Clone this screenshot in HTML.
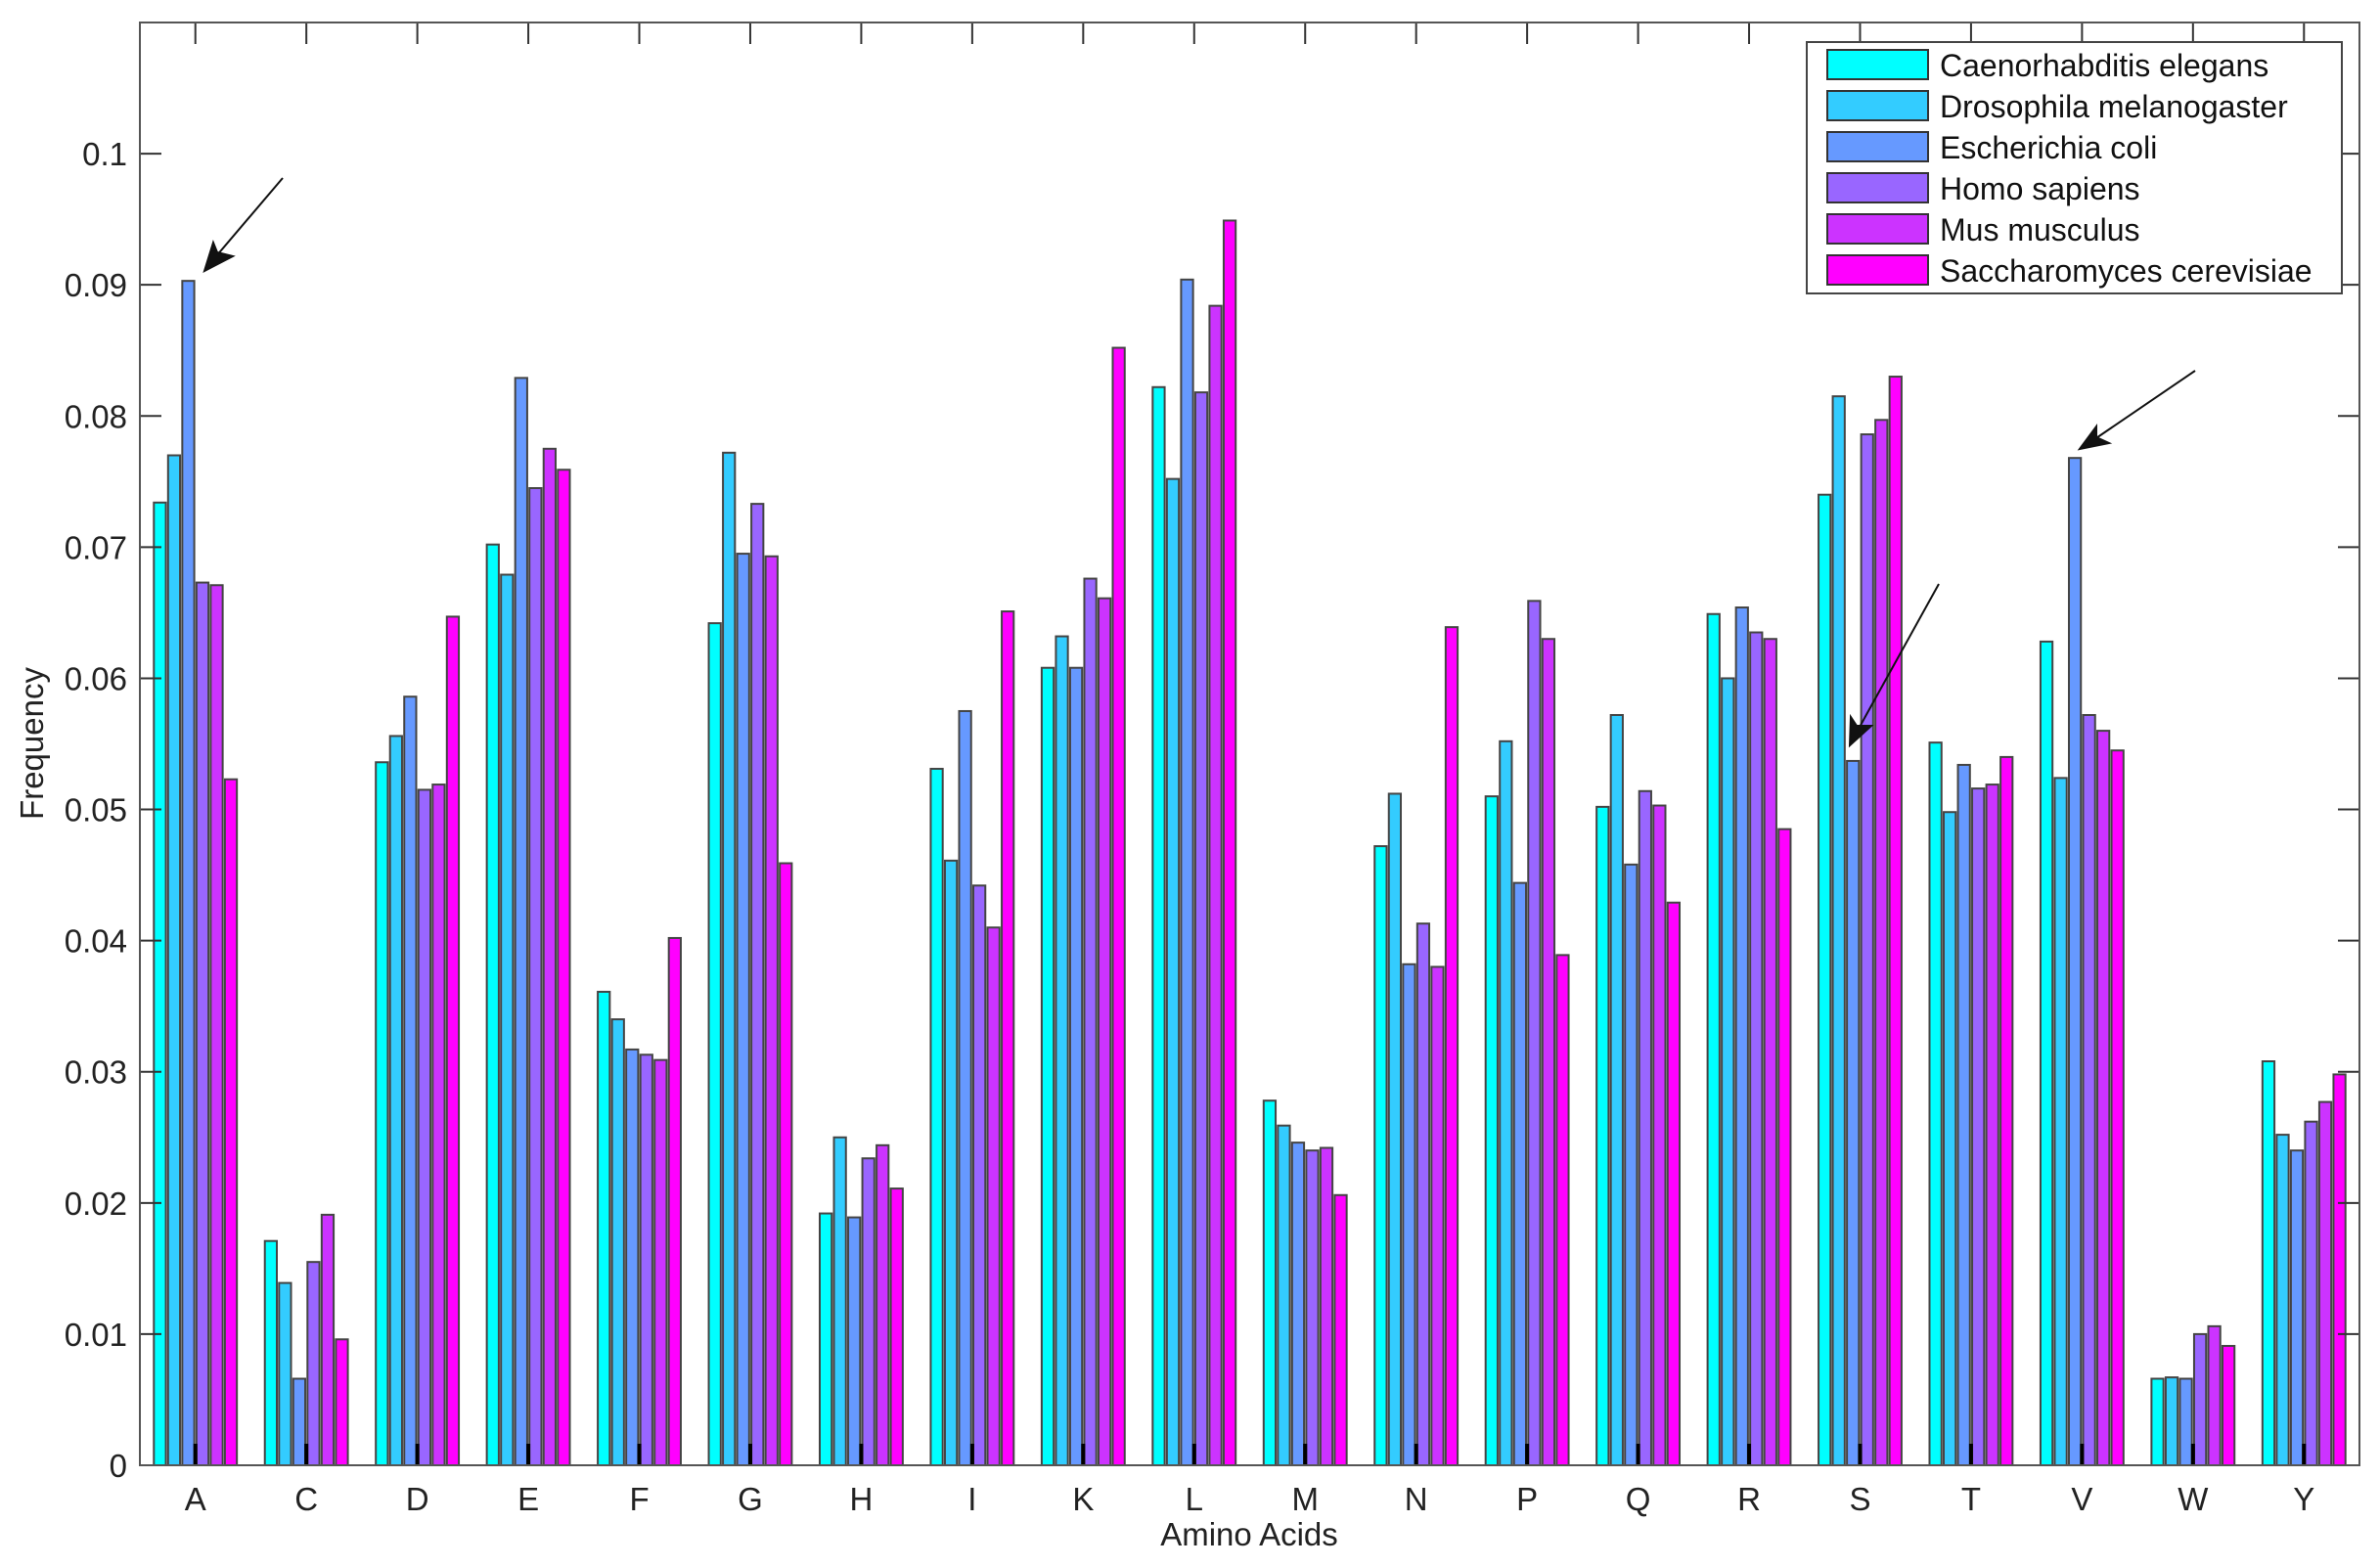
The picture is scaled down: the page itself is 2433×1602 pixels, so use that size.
<!DOCTYPE html>
<html><head><meta charset="utf-8"><style>
html,body{margin:0;padding:0;background:#fff;}
svg{display:block;font-family:"Liberation Sans",Arial,sans-serif;}
</style></head><body>
<svg id="chart" width="2433" height="1602" viewBox="0 0 2433 1602" xmlns="http://www.w3.org/2000/svg">
<rect x="0" y="0" width="2433" height="1602" fill="#fff"/>
<g id="bars"></g>
<g id="axes"></g>
<text x="1277" y="1580" font-size="33" text-anchor="middle" fill="#222">Amino Acids</text>
<text transform="translate(44,760) rotate(-90)" font-size="33" text-anchor="middle" fill="#222">Frequency</text>
<g stroke="#111" stroke-width="2" fill="#111">
<line x1="289" y1="182" x2="215" y2="269"/>
<polygon points="209,277 218,248 222,258 238,262"/>
<line x1="2244" y1="379" x2="2134" y2="454"/>
<polygon points="2126,459 2143,436 2143,447 2156,453"/>
<line x1="1982" y1="597" x2="1895" y2="754"/>
<polygon points="1891,762 1892,733 1898,742 1913,742"/>
</g>
<g id="legend"></g>
</svg>
<script>
const categories = ["A","C","D","E","F","G","H","I","K","L","M","N","P","Q","R","S","T","V","W","Y"];
const seriesNames = ["Caenorhabditis elegans","Drosophila melanogaster","Escherichia coli","Homo sapiens","Mus musculus","Saccharomyces cerevisiae"];
const celegans = [0.0734,0.0171,0.0536,0.0702,0.0361,0.0642,0.0192,0.0531,0.0608,0.0822,0.0278,0.0472,0.0510,0.0502,0.0649,0.0740,0.0551,0.0628,0.0066,0.0308];
const dmelanogaster = [0.0770,0.0139,0.0556,0.0679,0.0340,0.0772,0.0250,0.0461,0.0632,0.0752,0.0259,0.0512,0.0552,0.0572,0.0600,0.0815,0.0498,0.0524,0.0067,0.0252];
const ecoli = [0.0903,0.0066,0.0586,0.0829,0.0317,0.0695,0.0189,0.0575,0.0608,0.0904,0.0246,0.0382,0.0444,0.0458,0.0654,0.0537,0.0534,0.0768,0.0066,0.0240];
const hsapiens = [0.0673,0.0155,0.0515,0.0745,0.0313,0.0733,0.0234,0.0442,0.0676,0.0818,0.0240,0.0413,0.0659,0.0514,0.0635,0.0786,0.0516,0.0572,0.0100,0.0262];
const mmusculus = [0.0671,0.0191,0.0519,0.0775,0.0309,0.0693,0.0244,0.0410,0.0661,0.0884,0.0242,0.0380,0.0630,0.0503,0.0630,0.0797,0.0519,0.0560,0.0106,0.0277];
const scerevisiae = [0.0523,0.0096,0.0647,0.0759,0.0402,0.0459,0.0211,0.0651,0.0852,0.0949,0.0206,0.0639,0.0389,0.0429,0.0485,0.0830,0.0540,0.0545,0.0091,0.0298];
const yTickValues = [0,0.01,0.02,0.03,0.04,0.05,0.06,0.07,0.08,0.09,0.1];
const yTickLabels = ["0","0.01","0.02","0.03","0.04","0.05","0.06","0.07","0.08","0.09","0.1"];

const series = [celegans,dmelanogaster,ecoli,hsapiens,mmusculus,scerevisiae];
const colors = ["#00FFFF","#33CCFF","#6699FF","#9966FF","#CC33FF","#FF00FF"];
const L=143,R=2412,T=23,B=1498,YMAX=0.11;
const xs = v => L + (v-0.5)/20*(R-L);
const ys = v => B - v/YMAX*(B-T);
const NS="http://www.w3.org/2000/svg";
function mk(tag,attrs,parent){const e=document.createElementNS(NS,tag);for(const k in attrs)e.setAttribute(k,attrs[k]);parent.appendChild(e);return e;}
const bars=document.getElementById('bars'), axes=document.getElementById('axes'), legend=document.getElementById('legend');
const step=0.128, bw=0.108;
categories.forEach((c,i)=>{
  series.forEach((s,j)=>{
    const cx=(i+1)+(j-2.5)*step;
    const x0=xs(cx-bw/2), x1=xs(cx+bw/2);
    const r=mk('rect',{x:x0,y:ys(s[i]),width:x1-x0,height:B-ys(s[i]),fill:colors[j],stroke:'#444','stroke-width':2},bars);
    
    
  });
  const tb=mk('line',{x1:xs(i+1),x2:xs(i+1),y1:B,y2:B-22,stroke:'#000','stroke-width':4},axes);
  
  
  mk('line',{x1:xs(i+1),x2:xs(i+1),y1:T,y2:T+22,stroke:'#333','stroke-width':2},axes);
  const t=mk('text',{x:xs(i+1),y:1544,'font-size':33,'text-anchor':'middle',fill:'#222'},axes);
  t.textContent=c;
  
  
});
yTickValues.forEach((v,k)=>{
  const y=ys(v);
  mk('line',{x1:L,x2:L+22,y1:y,y2:y,stroke:'#333','stroke-width':2},axes);
  mk('line',{x1:R,x2:R-22,y1:y,y2:y,stroke:'#333','stroke-width':2},axes);
  const t=mk('text',{x:130,y:y+12,'font-size':33,'text-anchor':'end',fill:'#222'},axes);
  t.textContent=yTickLabels[k];
  
  
});
const frame=mk('rect',{x:L,y:T,width:R-L,height:B-T,fill:'none',stroke:'#555','stroke-width':2},axes);


const lb=mk('rect',{x:1847,y:43,width:547,height:257,fill:'#fff',stroke:'#444','stroke-width':2},legend);


seriesNames.forEach((n,j)=>{
  const y=51+j*42;
  const sw=mk('rect',{x:1868,y:y,width:103,height:30,fill:colors[j],stroke:'#333','stroke-width':2},legend);
  
  
  const t=mk('text',{x:1983,y:y+27,'font-size':32,fill:'#111'},legend);
  t.textContent=n;
  
  
});
</script>
</body></html>
